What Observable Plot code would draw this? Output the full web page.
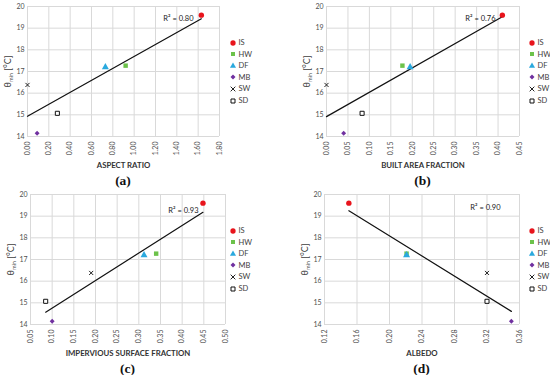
<!DOCTYPE html>
<html><head><meta charset="utf-8">
<script src="https://cdn.jsdelivr.net/npm/d3@7"></script>
<script src="https://cdn.jsdelivr.net/npm/@observablehq/plot@0.6"></script>
<style>
body{margin:0;background:#fff;}
#wrap{position:relative;width:550px;height:375px;font-family:Lato,"Liberation Sans",sans-serif;overflow:hidden;}
.panel{position:absolute;width:275px;height:188px;}
.legend{position:absolute;font-size:7.5px;color:#404040;line-height:1;}
.legend .row{height:11.6px;display:flex;align-items:center;}
.legend svg{display:block;margin-right:1.5px;}
.cap{position:absolute;font-family:"Liberation Serif","DejaVu Serif",serif;font-weight:bold;font-size:13.5px;color:#111;transform:translate(-50%,-50%);}
g[aria-label="x-axis label"] text{font-weight:bold;font-size:7.8px;fill:#333;}
g[aria-label="y-axis label"] text{font-size:9px;fill:#404040;}
g[aria-label="x-axis tick label"] text, g[aria-label="y-axis tick label"] text{fill:#505050;}
</style></head><body><div id="wrap"></div>
<script>
// ---- data ----
const sites = ["IS","HW","DF","MB","SW","SD"];
const thetaMin = [19.6, 17.27, 17.2, 14.15, 16.38, 15.07];
const aspectRatio = [1.63, 0.92, 0.73, 0.09, 0.0, 0.28];
const builtAreaFraction = [0.41, 0.177, 0.195, 0.04, 0.0, 0.083];
const imperviousFraction = [0.448, 0.34, 0.312, 0.10, 0.19, 0.085];
const albedo = [0.15, 0.221, 0.221, 0.35, 0.32, 0.32];
const rSquared = ["R² = 0.80", "R² = 0.76", "R² = 0.93", "R² = 0.90"];
const xLabels = ["ASPECT RATIO", "BUILT AREA FRACTION", "IMPERVIOUS SURFACE FRACTION", "ALBEDO"];
const captions = ["(a)", "(b)", "(c)", "(d)"];
const yTicks = [14, 15, 16, 17, 18, 19, 20];
const xTicksA = [0, 0.2, 0.4, 0.6, 0.8, 1.0, 1.2, 1.4, 1.6, 1.8];
const xTicksB = [0, 0.05, 0.10, 0.15, 0.20, 0.25, 0.30, 0.35, 0.40, 0.45];
const xTicksC = [0.05, 0.10, 0.15, 0.20, 0.25, 0.30, 0.35, 0.40, 0.45, 0.50];
const xTicksD = [0.12, 0.16, 0.20, 0.24, 0.28, 0.32, 0.36];

// ---- styles ----
const symbolShapes = ["circle", "square", "triangle", "diamond2", "times", "square"];
const d3Shapes = [d3.symbolCircle, d3.symbolSquare, d3.symbolTriangle, d3.symbolDiamond2, d3.symbolTimes, d3.symbolSquare];
const fills = ["#e8141c", "#6cc24a", "#2aa9de", "#7030a0", "none", "white"];
const strokes = ["none", "none", "none", "none", "#222", "#111"];
const radii = [2.7, 2.5, 2.6, 2.2, 2.0, 2.3];

const xSeries = [aspectRatio, builtAreaFraction, imperviousFraction, albedo];
const xTickSets = [xTicksA, xTicksB, xTicksC, xTicksD];
const layout = [
  {left:0, top:0, mL:27, mR:56, legX:233, r2dx:-26, r2dy:9},
  {left:275, top:0, mL:51, mR:31, legX:257, r2dx:-24, r2dy:9},
  {left:0, top:188, mL:30, mR:50, legX:233, r2dx:-27, r2dy:13},
  {left:275, top:188, mL:49, mR:31, legX:257, r2dx:-19, r2dy:10}
];

const wrap = document.getElementById("wrap");
layout.forEach((L, p) => {
  const ticks = xTickSets[p];
  const data = sites.map((s, i) => ({site: s, x: xSeries[p][i], y: thetaMin[i]}));
  const gridStyle = {stroke: "#d9d9d9", strokeOpacity: 1, strokeWidth: 1};
  const chart = Plot.plot({
    width: 275, height: 188,
    marginLeft: L.mL, marginRight: L.mR, marginTop: 6, marginBottom: 52,
    style: {fontFamily: "Lato, 'Liberation Sans', sans-serif", fontSize: "7px", color: "#595959", background: "transparent"},
    x: {domain: [ticks[0], ticks[ticks.length - 1]]},
    y: {domain: [14, 20]},
    marks: [
      Plot.gridX(ticks, gridStyle),
      Plot.gridY(yTicks, gridStyle),
      Plot.axisY(yTicks, {tickSize: 0, tickPadding: 3, label: "θmin [°C]", labelAnchor: "center", labelArrow: "none", labelOffset: 23}),
      Plot.axisX(ticks, {tickSize: 0, tickPadding: 5, tickRotate: -90, tickFormat: d3.format(".2f"), label: xLabels[p], labelAnchor: "center", labelArrow: "none", labelOffset: 31}),
      Plot.linearRegressionY(data, {x: "x", y: "y", ci: 0, stroke: "#111", strokeWidth: 1.2}),
      ...sites.map((s, i) => Plot.dot([data[i]], {x: "x", y: "y", symbol: symbolShapes[i], fill: fills[i], stroke: strokes[i], strokeWidth: 1, r: radii[i]})),
      Plot.text([rSquared[p]], {text: d => d, frameAnchor: "top-right", dx: L.r2dx, dy: L.r2dy, textAnchor: "end", fill: "#222", fontSize: 7.5})
    ]
  });
  // subscript for the y label
  const yl = chart.querySelector('g[aria-label="y-axis label"] text');
  if (yl) {
    yl.textContent = "";
    const ns = "http://www.w3.org/2000/svg";
    const t1 = document.createElementNS(ns, "tspan"); t1.textContent = "θ";
    const t2 = document.createElementNS(ns, "tspan"); t2.textContent = "min"; t2.setAttribute("font-size", "5.5px"); t2.setAttribute("dy", "2");
    const t3 = document.createElementNS(ns, "tspan"); t3.textContent = " [°C]"; t3.setAttribute("dy", "-2");
    yl.append(t1, t2, t3);
  }
  const panel = document.createElement("div");
  panel.className = "panel";
  panel.style.left = L.left + "px"; panel.style.top = L.top + "px";
  panel.appendChild(chart);
  // legend
  const leg = document.createElement("div");
  leg.className = "legend";
  leg.style.left = (L.legX - 4) + "px"; leg.style.top = (42.7 - 5.8) + "px";
  sites.forEach((s, i) => {
    const row = document.createElement("div"); row.className = "row";
    const sv = d3.create("svg").attr("width", 8).attr("height", 8);
    sv.append("path").attr("transform", "translate(4,4)")
      .attr("d", d3.symbol(d3Shapes[i], i === 0 ? 22 : 16)())
      .attr("fill", fills[i]).attr("stroke", strokes[i]).attr("stroke-width", 1);
    row.appendChild(sv.node());
    const sp = document.createElement("span"); sp.textContent = s;
    row.appendChild(sp);
    leg.appendChild(row);
  });
  panel.appendChild(leg);
  const cap = document.createElement("div");
  cap.className = "cap"; cap.textContent = captions[p];
  cap.style.left = ((L.mL + 275 - L.mR) / 2) + "px"; cap.style.top = "181px";
  panel.appendChild(cap);
  wrap.appendChild(panel);
});
</script></body></html>
